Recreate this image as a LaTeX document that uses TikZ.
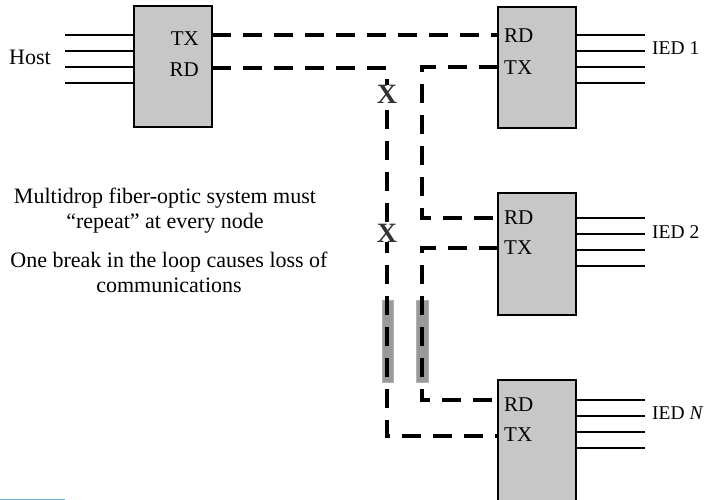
\documentclass[tikz,border=0pt]{standalone}
\usepackage{fontspec}
\setmainfont{Liberation Serif}
\begin{document}
\begin{tikzpicture}[x=1pt,y=-1pt,
  dev/.style={draw=black, line width=2.4pt, fill=black!22, anchor=north west, inner sep=0pt, outer sep=0pt, minimum width=78pt},
  wire/.style={line width=2.8pt, black},
  fiber/.style={line width=3.8pt, black, dash pattern=on 19pt off 12pt},
  lbl/.style={font=\fontsize{22}{25}\selectfont, inner sep=0pt},
  iedlbl/.style={font=\fontsize{19.5}{24}\selectfont, inner sep=0pt, anchor=west},
  port/.style={font=\fontsize{21}{24}\selectfont, inner sep=0pt},
  brk/.style={font=\fontsize{28}{28}\selectfont\bfseries, text=black!80, inner sep=0pt},
  bar/.style={fill=black!40, draw=black!30, line width=0.5pt}
]
\useasboundingbox (0,0) rectangle (707,500);

% devices
\node[dev, minimum height=121pt] (host) at (134,6) {};
\node[dev, minimum height=121pt] (ied1) at (498,7) {};
\node[dev, minimum height=122pt] (ied2) at (498,193) {};
\node[dev, minimum height=124pt] (iedn) at (498,380) {};

% port coordinates
\coordinate (hTX) at (212,35);
\coordinate (hRD) at (212,68);
\coordinate (aRD) at (498,35);
\coordinate (aTX) at (498,67);
\coordinate (bRD) at (498,218);
\coordinate (bTX) at (498,248);
\coordinate (nRD) at (498,400);
\coordinate (nTX) at (498,436);

% port labels
\node[port, anchor=east] (l1) at (199,39) {TX};
\node[port, anchor=east] (l2) at (199,70) {RD};
\node[port, anchor=west] (l3) at (504,36) {RD};
\node[port, anchor=west] (l4) at (504,68) {TX};
\node[port, anchor=west] (l5) at (504,218) {RD};
\node[port, anchor=west] (l6) at (504,248) {TX};
\node[port, anchor=west] (l7) at (504,405) {RD};
\node[port, anchor=west] (l8) at (504,435) {TX};

% host and IED wires
\foreach \y [count=\i] in {35,51,67,83} {
  \coordinate (hw\i) at (65,\y);
  \draw[wire] (hw\i) -- (host.west |- hw\i);
  \coordinate (aw\i) at (645,\y);
  \draw[wire] (ied1.east |- aw\i) -- (aw\i);
}
\foreach \y [count=\i] in {218,234,250,266} {
  \coordinate (bw\i) at (645,\y);
  \draw[wire] (ied2.east |- bw\i) -- (bw\i);
}
\foreach \y [count=\i] in {400,416,432,448} {
  \coordinate (nw\i) at (645,\y);
  \draw[wire] (iedn.east |- nw\i) -- (nw\i);
}

% device names
\node[lbl] (hostname) at (30,57) {Host};
\node[iedlbl] (n1) at (652,48) {IED 1};
\node[iedlbl] (n2) at (652,232) {IED 2};
\node[iedlbl] (nn) at (652,413) {IED \textit{N}};

% gray bars (repair sections)
\draw[bar] (382,300) rectangle (393,382);
\draw[bar] (416,300) rectangle (428,382);

% fiber loop
\draw[fiber] (hTX) -- (aRD);
\draw[fiber] (hRD) -| (387,436) -- (nTX);
\draw[fiber] (aTX) -| (422,218) -- (bRD);
\draw[fiber] (bTX) -| (422,400) -- (nRD);

% breaks
\node[brk, fill=white] (x1) at (387,94) {X};
\node[brk, fill=white] (x2) at (387,233) {X};

% text
\node[lbl, align=center] (txt1) at (165,211) {Multidrop fiber-optic system must\\“repeat” at every node};
\node[lbl, align=center] (txt2) at (169,272) {One break in the loop causes loss of\\communications};

\draw[line width=1.5pt, color={rgb,255:red,110;green,175;blue,210}] (0,499.3) -- (65,499.3);
\end{tikzpicture}
\end{document}
